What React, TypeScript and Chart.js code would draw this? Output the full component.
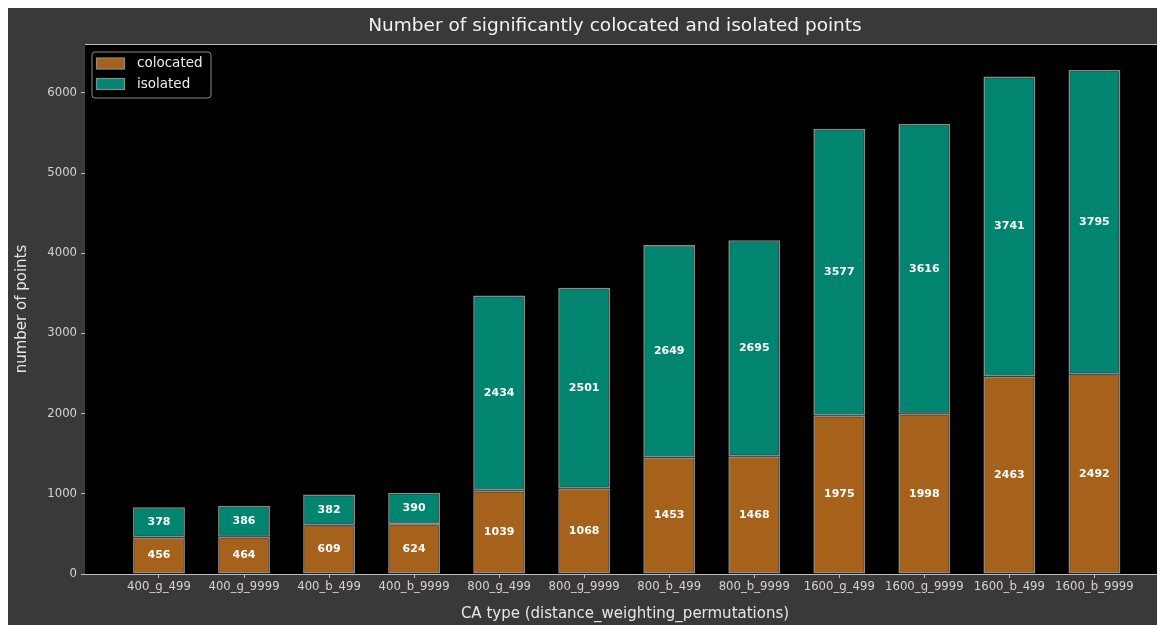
import { useEffect, useRef } from "react";
import { Chart, registerables } from "chart.js";

Chart.register(...registerables);

const categories = [
  "400_g_499", "400_g_9999", "400_b_499", "400_b_9999",
  "800_g_499", "800_g_9999", "800_b_499", "800_b_9999",
  "1600_g_499", "1600_g_9999", "1600_b_499", "1600_b_9999",
];
const colocated = [456, 464, 609, 624, 1039, 1068, 1453, 1468, 1975, 1998, 2463, 2492];
const isolated = [378, 386, 382, 390, 2434, 2501, 2649, 2695, 3577, 3616, 3741, 3795];
const yTicks = [0, 1000, 2000, 3000, 4000, 5000, 6000];
const seriesNames = ["colocated", "isolated"];
const seriesColors = ["#a6611a", "#018571"];

const titleText = "Number of significantly colocated and isolated points";
const xTitle = "CA type (distance_weighting_permutations)";
const yTitle = "number of points";

const FONT = "'DejaVu Sans', sans-serif";
const FIG_BG = "#3a3937";
const SPINE = "#bdbdbd";
const TICK_TEXT = "#d4d4d4";

// black plot area + top spine, drawn under the bars
const plotAreaPlugin = {
  id: "plotArea",
  beforeDatasetsDraw(chart: any) {
    const { ctx, chartArea: ca } = chart;
    ctx.save();
    ctx.fillStyle = "#000000";
    ctx.fillRect(ca.left, ca.top, chart.width - ca.left, ca.bottom - ca.top);
    ctx.strokeStyle = SPINE;
    ctx.lineWidth = 1;
    ctx.beginPath();
    ctx.moveTo(ca.left, ca.top + 0.5);
    ctx.lineTo(chart.width, ca.top + 0.5);
    ctx.stroke();
    ctx.restore();
  },
};

// value labels in the middle of each segment
const segmentLabelPlugin = {
  id: "segmentLabels",
  afterDatasetsDraw(chart: any) {
    const { ctx } = chart;
    const series = [colocated, isolated];
    ctx.save();
    ctx.font = `bold 11px ${FONT}`;
    ctx.fillStyle = "#ffffff";
    ctx.textAlign = "center";
    ctx.textBaseline = "middle";
    chart.data.datasets.forEach((_: any, di: number) => {
      const meta = chart.getDatasetMeta(di);
      meta.data.forEach((bar: any, i: number) => {
        ctx.fillText(String(series[di][i]), bar.x, (bar.y + bar.base) / 2);
      });
    });
    ctx.restore();
  },
};

// matplotlib-like legend box in the upper left of the axes, plus the figure title
const legendTitlePlugin = {
  id: "legendTitle",
  afterDraw(chart: any) {
    const { ctx, chartArea: ca } = chart;
    ctx.save();
    const bx = ca.left + 7;
    const by = ca.top + 8;
    const bw = 119;
    const bh = 46;
    const r = 3;
    ctx.beginPath();
    ctx.moveTo(bx + r, by);
    ctx.lineTo(bx + bw - r, by);
    ctx.quadraticCurveTo(bx + bw, by, bx + bw, by + r);
    ctx.lineTo(bx + bw, by + bh - r);
    ctx.quadraticCurveTo(bx + bw, by + bh, bx + bw - r, by + bh);
    ctx.lineTo(bx + r, by + bh);
    ctx.quadraticCurveTo(bx, by + bh, bx, by + bh - r);
    ctx.lineTo(bx, by + r);
    ctx.quadraticCurveTo(bx, by, bx + r, by);
    ctx.closePath();
    ctx.fillStyle = "rgba(0,0,0,0.8)";
    ctx.fill();
    ctx.strokeStyle = "#8c8c8c";
    ctx.lineWidth = 1;
    ctx.stroke();

    ctx.font = `13.5px ${FONT}`;
    ctx.textBaseline = "middle";
    ctx.textAlign = "left";
    seriesNames.forEach((name, i) => {
      const rowY = ca.top + 19.5 + i * 20.5;
      ctx.fillStyle = seriesColors[i];
      ctx.fillRect(ca.left + 11.5, rowY - 5.5, 28, 11);
      ctx.strokeStyle = "#8a8a8a";
      ctx.lineWidth = 1.2;
      ctx.strokeRect(ca.left + 11.5, rowY - 5.5, 28, 11);
      ctx.fillStyle = "#ececec";
      ctx.fillText(name, ca.left + 52, rowY);
    });

    ctx.font = `18.5px ${FONT}`;
    ctx.fillStyle = "#f2f2f2";
    ctx.textAlign = "center";
    ctx.fillText(titleText, ca.left + 530, 18);
    ctx.restore();
  },
};

export default function App() {
  const canvasRef = useRef<HTMLCanvasElement | null>(null);
  const chartRef = useRef<Chart | null>(null);

  useEffect(() => {
    document.body.style.overflow = "hidden";
    if (!canvasRef.current) return;

    const datasets = [colocated, isolated].map((values, di) => ({
      label: seriesNames[di],
      data: values.map((v, i) => ({ x: i, y: v })),
      backgroundColor: seriesColors[di],
      borderColor: "#8a8a8a",
      borderWidth: 1.6,
      borderSkipped: false as const,
      barPercentage: 0.61,
      categoryPercentage: 1,
    }));

    chartRef.current = new Chart(canvasRef.current.getContext("2d")!, {
      type: "bar",
      data: { datasets },
      options: {
        responsive: false,
        animation: false,
        layout: { padding: { top: 36, right: 0, left: 0, bottom: 0 } },
        plugins: {
          legend: { display: false },
          title: { display: false },
          tooltip: { enabled: false },
        },
        scales: {
          x: {
            type: "linear",
            stacked: true,
            offset: false,
            min: -0.87,
            max: 11.83,
            afterBuildTicks: (scale: any) => {
              scale.ticks = categories.map((_, i) => ({ value: i }));
            },
            afterFit: (scale: any) => {
              scale.height = 51;
              scale.paddingLeft = 0;
              scale.paddingRight = 0;
            },
            grid: {
              offset: false,
              drawOnChartArea: false,
              drawTicks: true,
              tickLength: 4,
              color: SPINE,
            },
            border: { display: true, color: SPINE, width: 1 },
            ticks: {
              autoSkip: false,
              maxRotation: 0,
              padding: 2,
              color: TICK_TEXT,
              font: { family: FONT, size: 11.7 },
              callback: (v: any) => categories[v] ?? "",
            },
            title: {
              display: true,
              text: xTitle,
              color: "#e6e6e6",
              font: { family: FONT, size: 15 },
              padding: { top: 0, bottom: 2 },
            },
          },
          y: {
            type: "linear",
            stacked: true,
            min: 0,
            max: 6610,
            afterBuildTicks: (scale: any) => {
              scale.ticks = yTicks.map((v) => ({ value: v }));
            },
            afterFit: (scale: any) => {
              scale.width = 77;
              scale.paddingTop = 0;
              scale.paddingBottom = 0;
            },
            grid: {
              drawOnChartArea: false,
              drawTicks: true,
              tickLength: 4,
              color: SPINE,
            },
            border: { display: true, color: SPINE, width: 1 },
            ticks: {
              padding: 4,
              color: TICK_TEXT,
              font: { family: FONT, size: 11.7 },
              callback: (v: any) => String(v),
            },
            title: {
              display: true,
              text: yTitle,
              color: "#e6e6e6",
              font: { family: FONT, size: 15 },
              padding: { top: 5, bottom: 0 },
            },
          },
        },
      },
      plugins: [plotAreaPlugin, segmentLabelPlugin, legendTitlePlugin],
    });

    return () => {
      chartRef.current?.destroy();
      chartRef.current = null;
    };
  }, []);

  return (
    <div style={{ width: "1157px", height: "617px", background: FIG_BG }}>
      <canvas ref={canvasRef} width={1157} height={617} />
    </div>
  );
}
